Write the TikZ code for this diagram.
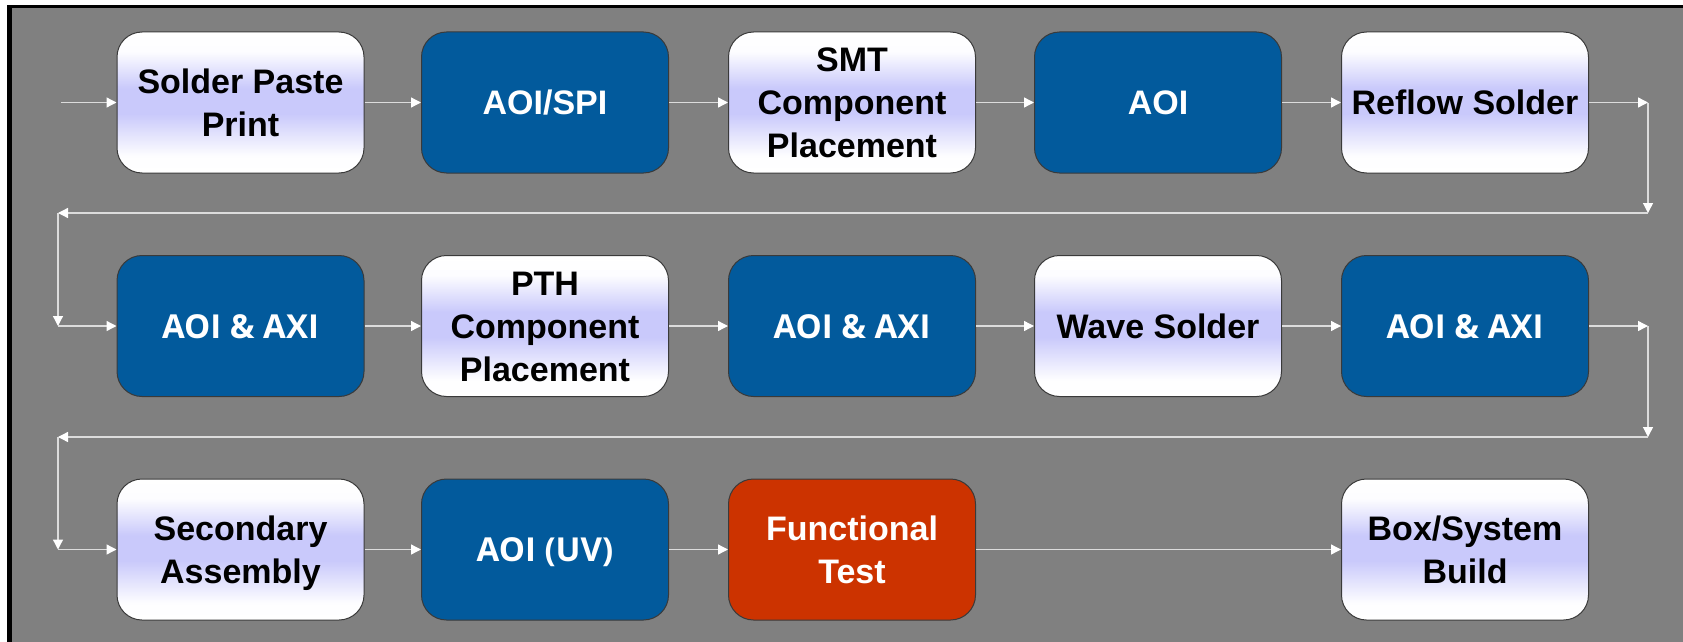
\documentclass[tikz,border=0pt]{standalone}
\usepackage{fontspec}
\setmainfont{Liberation Sans}
\newfontfamily\osfont{Open Sans}
\usetikzlibrary{arrows.meta}
\definecolor{bg}{HTML}{808080}
\definecolor{blu}{HTML}{025A9C}
\definecolor{redb}{HTML}{CC3300}
\definecolor{lav}{HTML}{C9C9FB}
\definecolor{edge}{HTML}{3A3A3A}
\definecolor{wire}{HTML}{DCDCDC}
\pgfdeclareverticalshading{lavshade}{100bp}{color(0bp)=(white); color(25bp)=(white); color(31bp)=(white!97!lav); color(46bp)=(lav); color(55bp)=(lav); color(68bp)=(white!96!lav); color(75bp)=(white); color(100bp)=(white)}
\tikzset{
  box/.style={rounded corners=25pt, draw=edge, line width=1pt,
    minimum width=247pt, minimum height=141pt, inner sep=0pt,
    align=center, font=\bfseries\fontsize{34}{43}\selectfont, text depth=0pt},
  one/.style={text height=24.4pt},
  two/.style={text height=67.4pt},
  three/.style={text height=110.4pt},
  light/.style={box, shading=lavshade, text=black},
  dark/.style={box, fill=blu, text=white},
  darkos/.style={box, fill=blu, text=white, font=\osfont\bfseries\fontsize{33}{43}\selectfont},
  redbox/.style={box, fill=redb, text=white},
  flow/.style={draw=wire, line width=1.3pt, -{Triangle[length=10pt,width=10pt,color=white]}}
}
\begin{document}
\begin{tikzpicture}[x=1pt,y=-1pt]
\useasboundingbox (0,0) rectangle (1683,642);
\fill[white] (0,0) rectangle (1683,642);
\fill[black] (7,5) rectangle (1683,642);
\fill[bg] (12,8.5) rectangle (1683,642);

% row 1
\node[light,two]   (n1)  at (240.5,102.5) {Solder Paste\\Print};
\node[dark,one]    (n2)  at (545,102.5)   {AOI/SPI};
\node[light,three] (n3)  at (852,102.5)   {SMT\\Component\\Placement};
\node[dark,one]    (n4)  at (1158,102.5)  {AOI};
\node[light,one]   (n5)  at (1465,102.5)  {Reflow Solder};
% row 2
\node[darkos,one]  (n6)  at (240.5,326)   {AOI \& AXI};
\node[light,three] (n7)  at (545,326)     {PTH\\Component\\Placement};
\node[darkos,one]  (n8)  at (852,326)     {AOI \& AXI};
\node[light,one]   (n9)  at (1158,326)    {Wave Solder};
\node[darkos,one]  (n10) at (1465,326)    {AOI \& AXI};
% row 3
\node[light,two]   (n11) at (240.5,549.5) {Secondary\\Assembly};
\node[darkos,one]  (n12) at (545,549.5)   {AOI (UV)};
\node[redbox,two]  (n13) at (852,549.5)   {Functional\\Test};
\node[light,two]   (n15) at (1465,549.5)  {Box/System\\Build};

% connector waypoints
\coordinate (s)   at (61,102.5);
\coordinate (a1)  at (1648,102.5);
\coordinate (a2)  at (1648,213);
\coordinate (a3)  at (58,213);
\coordinate (a4)  at (58,326);
\coordinate (b1)  at (1648,326);
\coordinate (b2)  at (1648,437);
\coordinate (b3)  at (58,437);
\coordinate (b4)  at (58,549.5);

\draw[flow] (s) -- (n1);
\draw[flow] (n1) -- (n2);
\draw[flow] (n2) -- (n3);
\draw[flow] (n3) -- (n4);
\draw[flow] (n4) -- (n5);
\draw[flow] (n5) -- (a1);
\draw[flow] (a1) -- (a2);
\draw[flow] (a2) -- (a3);
\draw[flow] (a3) -- (a4);
\draw[flow] (a4) -- (n6);
\draw[flow] (n6) -- (n7);
\draw[flow] (n7) -- (n8);
\draw[flow] (n8) -- (n9);
\draw[flow] (n9) -- (n10);
\draw[flow] (n10) -- (b1);
\draw[flow] (b1) -- (b2);
\draw[flow] (b2) -- (b3);
\draw[flow] (b3) -- (b4);
\draw[flow] (b4) -- (n11);
\draw[flow] (n11) -- (n12);
\draw[flow] (n12) -- (n13);
\draw[flow] (n13) -- (n15);
\end{tikzpicture}
\end{document}
